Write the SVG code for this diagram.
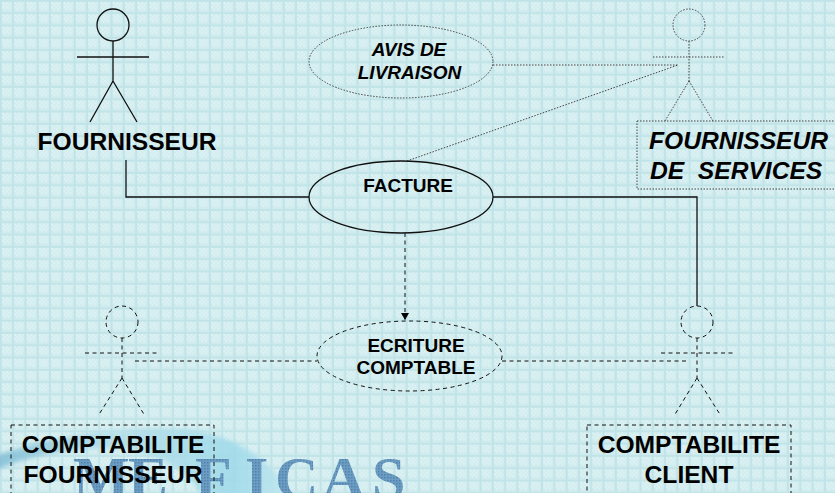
<svg xmlns="http://www.w3.org/2000/svg" width="835" height="493" viewBox="0 0 835 493">
<style>
.sol{stroke:#111;stroke-width:1.3;fill:none}
.dot{stroke:#444;stroke-width:1;stroke-dasharray:1.5 1.5;fill:none}
.dash{stroke:#111;stroke-width:1;stroke-dasharray:4 3.5;fill:none}
text{font-family:"Liberation Sans",Arial,sans-serif;font-weight:bold;fill:#000;text-anchor:middle}
.big{font-size:24.600px}
.small{font-size:19px}
.it{font-style:italic}
.wm{font-family:"Liberation Serif",serif;font-size:60px;fill:url(#stip);text-anchor:start}
</style>
<defs>
<pattern id="grid" width="12.300" height="12.300" patternUnits="userSpaceOnUse">
<rect width="12.300" height="12.300" fill="#d0ebee"/>
<path d="M2 2h2v2h-2zM6 2h2v2h-2zM10 2h1v2h-1zM4 4h2v2h-2zM8 4h2v2h-2zM2 6h2v2h-2zM6 6h2v2h-2zM10 6h1v2h-1zM4 8h2v2h-2zM8 8h2v2h-2z" fill="#dff3f4"/>
<path d="M0 .8H12.300M.8 0V12.300" stroke="#bfe3e7" stroke-width="1.800" fill="none"/>
</pattern>
<pattern id="stip" width="3" height="3" patternUnits="userSpaceOnUse">
<rect width="3" height="3" fill="#6d9cc2"/>
<rect width="1.500" height="1.500" fill="#4f82ad"/>
</pattern>
<linearGradient id="sw" x1="0" y1="0" x2="1" y2="0">
<stop offset="0" stop-color="#7fbdd6"/><stop offset="0.4" stop-color="#b5dfe8"/><stop offset="0.8" stop-color="#9fdaea"/><stop offset="1" stop-color="#c4e8ee"/>
</linearGradient>
<filter id="soft" x="-5%" y="-10%" width="110%" height="120%"><feGaussianBlur stdDeviation="2"/></filter>
<marker id="ah" markerWidth="8" markerHeight="9" refX="7" refY="4" orient="auto" markerUnits="userSpaceOnUse"><path d="M0 0L7 4L0 8z" fill="#000"/></marker>
</defs>
<rect id="background" width="835" height="493" fill="url(#grid)"/>
<g id="watermark">
<path d="M-5 456C50 436 130 424 190 430C240 437 270 460 295 498H205C190 475 170 458 130 450C90 445 40 452 -5 470z" fill="url(#sw)" opacity="0.85" filter="url(#soft)"/>
<text class="wm" x="73 128 195 245 275 322 372" y="498">MEFICAS</text>
</g>
<g id="connectors">
<path class="sol" d="M126 160V197H309"/>
<path class="sol" d="M493 197H697V306"/>
<path class="dash" d="M405 233V320" marker-end="url(#ah)"/>
<path class="dot" d="M493 65H678"/>
<path class="dot" d="M407 161L678 65"/>
<path class="dash" d="M135 361H317"/>
<path class="dash" d="M502 361H686"/>
</g>
<g id="fournisseur">
<circle class="sol" cx="113" cy="25" r="16"/>
<path class="sol" d="M113 41V81M77 57H149M113 81L90 122M113 81L137 122"/>
<text class="big" x="127" y="150">FOURNISSEUR</text>
</g>
<g id="fournisseur-services">
<circle class="dot" cx="689" cy="25" r="16"/>
<path class="dot" d="M689 41V81M653 57H724M689 81L665 121M689 81L713 121"/>
<rect class="dot" x="637" y="121" width="210" height="68"/>
<text class="big it" x="738.500" y="149">FOURNISSEUR</text>
<text class="big it" x="650" y="179" style="text-anchor:start;white-space:pre" xml:space="preserve">DE  SERVICES</text>
</g>
<g id="avis-livraison">
<ellipse class="dot" cx="401" cy="61.500" rx="92" ry="36.500"/>
<text class="small it" x="409" y="56">AVIS DE</text>
<text class="small it" x="409.500" y="79">LIVRAISON</text>
</g>
<g id="facture">
<ellipse class="sol" cx="401" cy="197" rx="92" ry="36"/>
<text class="small" x="408" y="192">FACTURE</text>
</g>
<g id="ecriture">
<ellipse class="dash" cx="409.500" cy="356" rx="92.500" ry="35"/>
<text class="small" x="416" y="352">ECRITURE</text>
<text class="small" x="416" y="374">COMPTABLE</text>
</g>
<g id="comptabilite-fournisseur">
<circle class="dash" cx="122" cy="322" r="16"/>
<path class="dash" d="M122 338V378M85 353H158M122 378L98 416M122 378L145 416"/>
<rect class="dash" x="11" y="425" width="203" height="80"/>
<text class="big" x="113" y="453">COMPTABILITE</text>
<text class="big" x="113" y="483">FOURNISSEUR</text>
</g>
<g id="comptabilite-client">
<circle class="dash" cx="697" cy="322" r="16"/>
<path class="dash" d="M697 338V378M661 353H734M697 378L674 416M697 378L721 416"/>
<rect class="dash" x="587" y="425" width="204" height="80"/>
<text class="big" x="689" y="453">COMPTABILITE</text>
<text class="big" x="689" y="483">CLIENT</text>
</g>
</svg>
